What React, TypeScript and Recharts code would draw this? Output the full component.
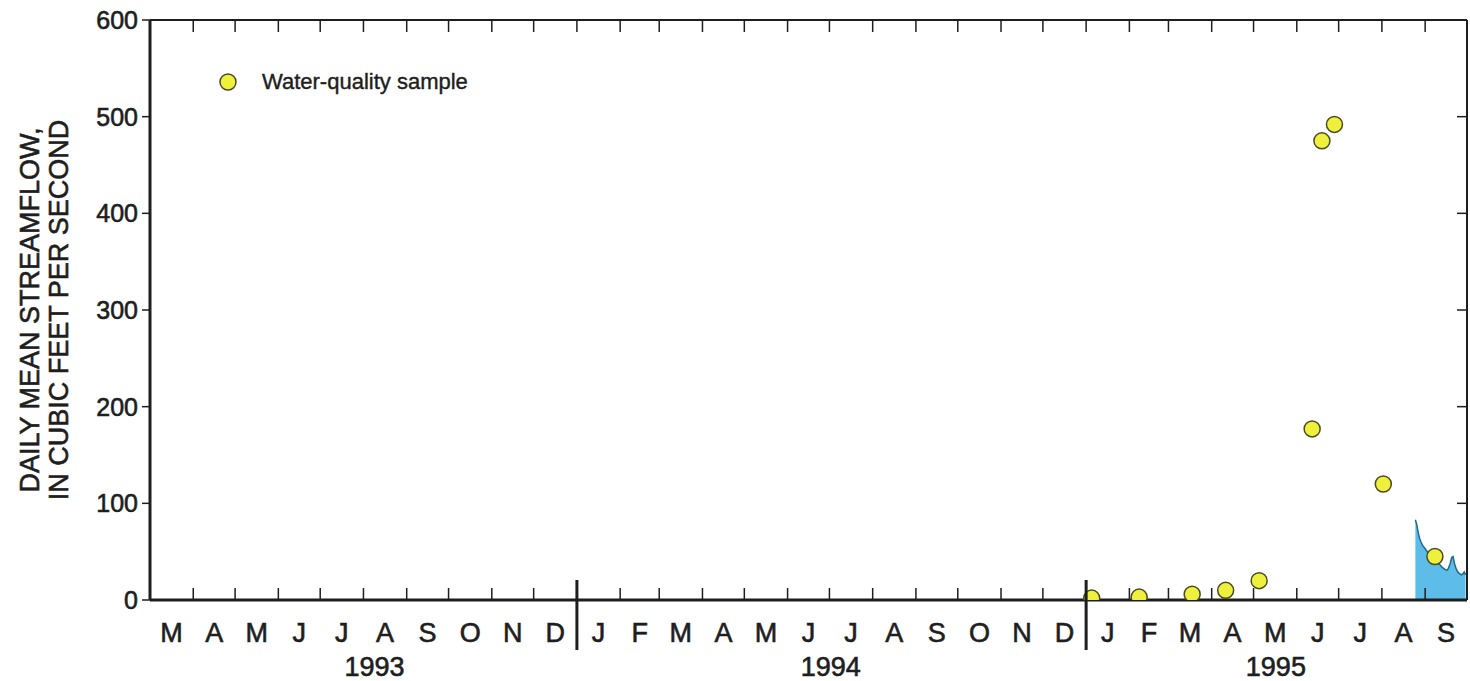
import { Area, ComposedChart, Legend, Scatter, XAxis, YAxis } from 'recharts'

const START = Date.UTC(1993, 2, 1)
const toDay = (s: string) => (Date.parse(s + 'T00:00:00Z') - START) / 86400000

// month letters, Mar 1993 .. Sep 1995
const MONTH_LABELS = [
  'M', 'A', 'M', 'J', 'J', 'A', 'S', 'O', 'N', 'D',
  'J', 'F', 'M', 'A', 'M', 'J', 'J', 'A', 'S', 'O', 'N', 'D',
  'J', 'F', 'M', 'A', 'M', 'J', 'J', 'A', 'S',
]
const YEAR_LABELS = ['1993', '1994', '1995']
const YEAR_LABEL_DATES = ['1993-08-09', '1994-07-02', '1995-05-17']
const Y_TICKS = [0, 100, 200, 300, 400, 500, 600]

// water-quality samples
const SAMPLE_DATES = [
  '1995-01-05', '1995-02-08', '1995-03-18', '1995-04-11', '1995-05-05',
  '1995-06-12', '1995-06-19', '1995-06-28', '1995-08-02', '1995-09-08',
]
const SAMPLE_FLOWS = [2, 3, 6, 10, 20, 177, 475, 492, 120, 45]

// daily mean streamflow, starting 1995-08-25
const FLOW_START = '1995-08-25'
const FLOW_VALUES = [
  83, 78, 70, 64, 60, 57, 55, 53, 51, 49, 47, 45, 43, 41, 40, 39, 38, 37, 36,
  34, 33, 32, 31, 31, 34, 38, 44, 45, 38, 33, 30, 28, 27, 26, 27, 29, 26,
]

const FONT = '"Liberation Sans", Arial, Helvetica, sans-serif'
const INK = '#1e1e1e'
const HEAVY = { stroke: INK, strokeWidth: 0.6 }

const BOUNDS = MONTH_LABELS.map((_, i) => (Date.UTC(1993, 2 + i, 1) - START) / 86400000)
BOUNDS.push((Date.UTC(1993, 2 + MONTH_LABELS.length, 1) - START) / 86400000)
const MIDS = MONTH_LABELS.map((_, i) => (BOUNDS[i] + BOUNDS[i + 1]) / 2)
const YEAR_DAYS = YEAR_LABEL_DATES.map(toDay)
const YEAR_BOUNDS = [toDay('1994-01-01'), toDay('1995-01-01')]
const X_MAX = BOUNDS[BOUNDS.length - 1]

const samples = SAMPLE_DATES.map((d, i) => ({ t: toDay(d), v: SAMPLE_FLOWS[i] }))
const flow = FLOW_VALUES.map((v, i) => ({ t: toDay(FLOW_START) + i, v }))
const bottomTicks = Array.from(new Set([...BOUNDS, ...MIDS, ...YEAR_DAYS])).sort((a, b) => a - b)
const innerBounds = BOUNDS.slice(1, -1)

function BottomTick(props: any) {
  const { x, y, payload } = props
  const v = payload.value
  const parts: any[] = []
  if (innerBounds.includes(v)) {
    if (YEAR_BOUNDS.includes(v)) {
      parts.push(<line key="yb" x1={x} x2={x} y1={y - 20} y2={y + 50} stroke={INK} strokeWidth={3} />)
    } else {
      parts.push(<line key="mb" x1={x} x2={x} y1={y - 12} y2={y} stroke={INK} strokeWidth={1.5} />)
    }
  }
  const mi = MIDS.indexOf(v)
  if (mi >= 0) {
    parts.push(
      <text key="m" x={x} y={y + 42} textAnchor="middle" fontFamily={FONT} fontSize={27} fill={INK} {...HEAVY}>
        {MONTH_LABELS[mi]}
      </text>,
    )
  }
  const yi = YEAR_DAYS.indexOf(v)
  if (yi >= 0) {
    parts.push(
      <text key="y" x={x} y={y + 76} textAnchor="middle" fontFamily={FONT} fontSize={27} fill={INK} {...HEAVY}>
        {YEAR_LABELS[yi]}
      </text>,
    )
  }
  return <g>{parts}</g>
}

function TopTick(props: any) {
  const { x, y, payload } = props
  if (!innerBounds.includes(payload.value)) return <g />
  return <line x1={x} x2={x} y1={y} y2={y + 12} stroke={INK} strokeWidth={1.5} />
}

function LeftTick(props: any) {
  const { x, y, payload } = props
  return (
    <g>
      <line x1={x - 8} x2={x} y1={y} y2={y} stroke={INK} strokeWidth={1.5} />
      <text x={x - 12} y={y + 9} textAnchor="end" fontFamily={FONT} fontSize={25} fill={INK} {...HEAVY}>
        {payload.value}
      </text>
    </g>
  )
}

function RightTick(props: any) {
  const { x, y, payload } = props
  if (payload.value === 0 || payload.value === 600) return <g />
  return <line x1={x - 10} x2={x} y1={y} y2={y} stroke={INK} strokeWidth={1.5} />
}

function YTitle(props: any) {
  const vb = props.viewBox
  const cy = vb.y + vb.height / 2
  return (
    <g fontFamily={FONT} fontSize={27} fill={INK} {...HEAVY}>
      <text x={30} y={cy} textAnchor="middle" dominantBaseline="central" transform={`rotate(-90 30 ${cy})`}>
        DAILY MEAN STREAMFLOW,
      </text>
      <text x={59} y={cy} textAnchor="middle" dominantBaseline="central" transform={`rotate(-90 59 ${cy})`}>
        IN CUBIC FEET PER SECOND
      </text>
    </g>
  )
}

function SampleLegend() {
  return (
    <div style={{ display: 'flex', alignItems: 'center', fontFamily: FONT, fontSize: 22, color: INK, WebkitTextStroke: '0.4px #1e1e1e' }}>
      <svg width={20} height={20} style={{ marginRight: 24 }}>
        <circle cx={10} cy={10} r={8} fill="#eef03c" stroke="#4a4a25" strokeWidth={1.5} />
      </svg>
      <span>Water-quality sample</span>
    </div>
  )
}

export default function App() {
  return (
    <div style={{ position: 'absolute', left: 0, top: 0, background: '#fff' }}>
      <ComposedChart width={1470} height={681} margin={{ top: 0, right: 0, bottom: 0, left: 0 }}>
        <XAxis
          dataKey="t"
          type="number"
          domain={[0, X_MAX]}
          allowDataOverflow
          ticks={bottomTicks}
          interval={0}
          height={81}
          tickSize={0}
          tickMargin={0}
          tickLine={false}
          axisLine={{ stroke: INK, strokeWidth: 3 }}
          tick={<BottomTick />}
        />
        <XAxis
          xAxisId="top"
          dataKey="t"
          type="number"
          orientation="top"
          domain={[0, X_MAX]}
          allowDataOverflow
          ticks={BOUNDS}
          interval={0}
          height={20}
          tickSize={0}
          tickMargin={0}
          tickLine={false}
          axisLine={{ stroke: INK, strokeWidth: 2 }}
          tick={<TopTick />}
        />
        <YAxis
          dataKey="v"
          type="number"
          domain={[0, 600]}
          allowDataOverflow
          ticks={Y_TICKS}
          interval={0}
          width={150}
          tickSize={0}
          tickMargin={0}
          tickLine={false}
          axisLine={{ stroke: INK, strokeWidth: 3 }}
          tick={<LeftTick />}
          label={{ content: (p: any) => <YTitle {...p} /> }}
        />
        <YAxis
          yAxisId="right"
          dataKey="v"
          type="number"
          orientation="right"
          domain={[0, 600]}
          allowDataOverflow
          ticks={Y_TICKS}
          interval={0}
          width={3}
          tickSize={0}
          tickMargin={0}
          tickLine={false}
          axisLine={{ stroke: INK, strokeWidth: 2 }}
          tick={<RightTick />}
        />
        <Legend
          layout="vertical"
          align="center"
          verticalAlign="middle"
          content={() => <SampleLegend />}
          wrapperStyle={{ position: 'absolute', left: 218, top: 69, width: 'auto' }}
        />
        <Area
          data={flow}
          dataKey="v"
          type="linear"
          stroke="#1f6a86"
          strokeWidth={1.5}
          fill="#5dbde8"
          fillOpacity={1}
          isAnimationActive={false}
        />
        <Scatter
          data={samples}
          dataKey="v"
          fill="#eef03c"
          stroke="#4a4a25"
          strokeWidth={1.5}
          shape={(p: any) => <circle cx={p.cx} cy={p.cy} r={8} fill="#eef03c" stroke="#4a4a25" strokeWidth={1.5} />}
          isAnimationActive={false}
        />
      </ComposedChart>
    </div>
  )
}
